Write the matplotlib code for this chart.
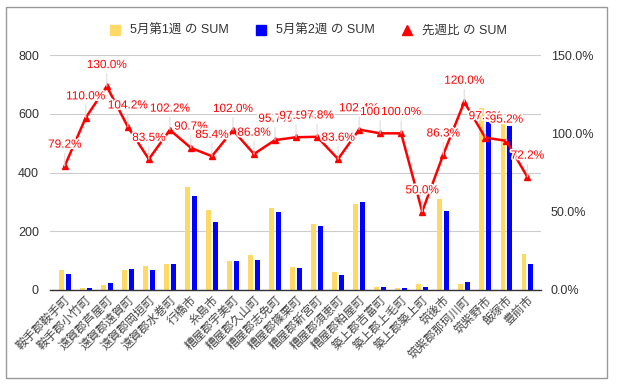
import matplotlib
matplotlib.use("Agg")
import matplotlib.pyplot as plt
import matplotlib.patheffects as pe
from matplotlib.patches import Patch, Rectangle
from matplotlib.lines import Line2D
import numpy as np

plt.rcParams['font.family'] = ['Liberation Sans', 'Noto Sans CJK JP', 'DejaVu Sans']

# data
towns = ['鞍手郡鞍手町', '鞍手郡小竹町', '遠賀郡芦屋町', '遠賀郡遠賀町', '遠賀郡岡垣町',
         '遠賀郡水巻町', '行橋市', '糸島市', '糟屋郡宇美町', '糟屋郡久山町', '糟屋郡志免町',
         '糟屋郡篠栗町', '糟屋郡新宮町', '糟屋郡須恵町', '糟屋郡粕屋町', '築上郡吉富町',
         '築上郡上毛町', '築上郡築上町', '筑後市', '筑紫郡那珂川町', '筑紫野市', '飯塚市', '豊前市']
week1 = [68, 7, 16, 68, 81, 87, 350, 271, 99, 118, 278, 77, 224, 62, 292, 9, 6, 19, 309, 22, 619, 573, 122]
week2 = [53, 6, 23, 71, 68, 89, 319, 230, 100, 102, 265, 74, 217, 52, 299, 9, 6, 9, 268, 26, 571, 559, 87]
ratio = [79.2, 110.0, 130.0, 104.2, 83.5, 102.2, 90.7, 85.4, 102.0, 86.8, 95.7, 97.5,
         97.8, 83.6, 102.4, 100.0, 100.0, 50.0, 86.3, 120.0, 97.3, 95.2, 72.2]

c_w1 = '#ffd966'
c_w2 = '#0000ff'
c_r = '#ff0000'

fig = plt.figure(figsize=(6.17, 3.86), dpi=100)
ax = fig.add_axes([50/617, 1-290/386, 491/617, 235/386])
ax2 = ax.twinx()

x = np.arange(len(towns))
w = 0.23
ax.bar(x - 0.16, week1, width=w, color=c_w1, zorder=2)
ax.bar(x + 0.16, week2, width=w, color=c_w2, zorder=2)

ax.set_ylim(0, 800)
ax.set_yticks([0, 200, 400, 600, 800])
ax.set_xlim(-0.7, len(towns) - 0.35)
ax.grid(axis='y', color='#cccccc', lw=0.8, zorder=0)
ax.set_axisbelow(True)
for s in ['top', 'right', 'left']:
    ax.spines[s].set_visible(False)
ax.spines['bottom'].set_color('#333333')
ax.spines['bottom'].set_linewidth(1.0)
ax.tick_params(axis='y', length=0, pad=8, labelsize=9, labelcolor='#333333')
ax.tick_params(axis='x', length=0, pad=3)
ax.set_xticks(x)
ax.set_xticklabels(towns, rotation=45, ha='right', rotation_mode='anchor',
                   fontsize=8.5, color='#444444')

ax2.plot(x, ratio, color=c_r, lw=1.8, marker='^', ms=5, zorder=4)
ax2.set_ylim(0, 150)
ax2.set_yticks([0, 50, 100, 150])
ax2.set_yticklabels(['%.1f%%' % v for v in [0, 50, 100, 150]])
ax2.tick_params(axis='y', length=0, pad=7, labelsize=9, labelcolor='#333333')
for s in ['top', 'right', 'left', 'bottom']:
    ax2.spines[s].set_visible(False)

for xi, v in zip(x, ratio):
    ax2.annotate('%.1f%%' % v, (xi, v), xytext=(0, 11), textcoords='offset points',
                 ha='center', va='bottom', fontsize=8.5, color=c_r,
                 path_effects=[pe.withStroke(linewidth=2.5, foreground='white')],
                 arrowprops=dict(arrowstyle='-', color='#dddddd', lw=0.8,
                                 shrinkA=0, shrinkB=0),
                 zorder=5)

handles = [Patch(color=c_w1), Patch(color=c_w2),
           Line2D([], [], color=c_r, marker='^', ls='', ms=6.5)]
fig.legend(handles, ['5月第1週 の SUM', '5月第2週 の SUM', '先週比 の SUM'],
           loc='center', bbox_to_anchor=(0.5, 1-31/386), ncol=3, frameon=False,
           fontsize=9, handlelength=0.8, handleheight=0.8, columnspacing=2.2,
           handletextpad=0.8, labelcolor='#333333')

fig.patches.append(Rectangle((6/617, 1-378/386), 601/617, 371/386, transform=fig.transFigure,
                             fill=False, edgecolor='#999999', lw=1.0))

fig.savefig('out.png', dpi=100)
